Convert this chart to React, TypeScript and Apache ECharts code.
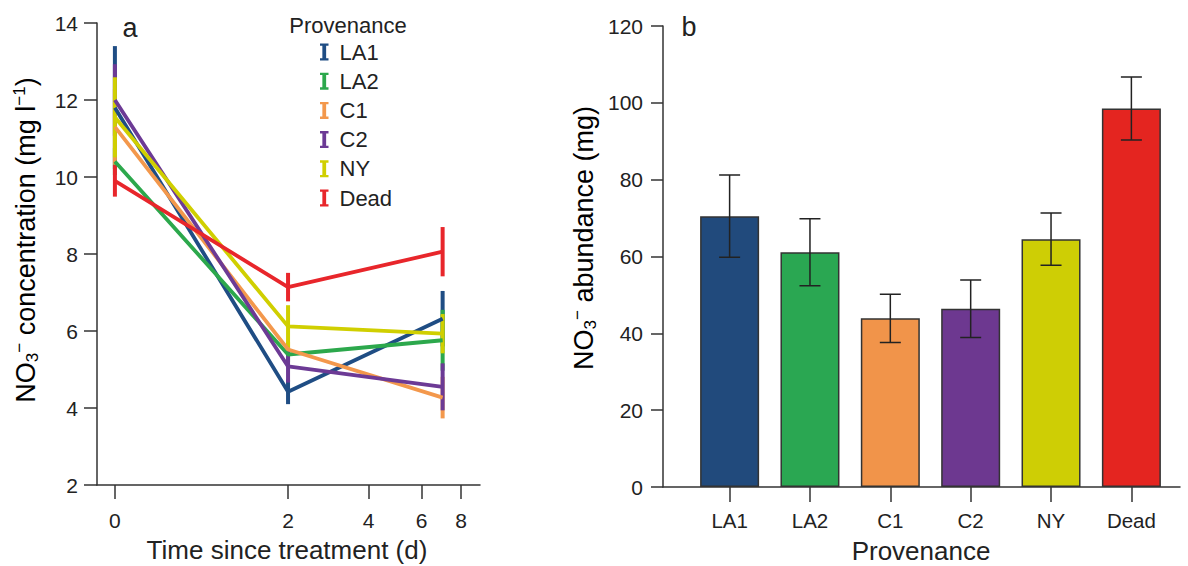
import React, { useEffect, useRef } from 'react';
import * as echarts from 'echarts';

// ---------- data ----------
const provenances = ['LA1', 'LA2', 'C1', 'C2', 'NY', 'Dead'];
const lineColors = ['#1f4d84', '#2ca84c', '#f3984c', '#6c3a95', '#d0cf00', '#e8262b'];
const barColors = ['#214a7c', '#2aa752', '#f1944a', '#6d3890', '#cece05', '#e42520'];

// panel a: time (days) and NO3- concentration (mg/l)
const timeDays = [0, 2, 7];
const timeTicks = [0, 2, 4, 6, 8];

const concLA1 = [11.8, 4.42, 6.32];
const concLA2 = [10.4, 5.39, 5.76];
const concC1 = [11.3, 5.52, 4.27];
const concC2 = [12.0, 5.08, 4.55];
const concNY = [11.55, 6.12, 5.93];
const concDead = [9.9, 7.14, 8.06];

const errLA1 = [1.6, 0.32, 0.72];
const errLA2 = [0.35, 0.2, 0.79];
const errC1 = [0.98, 0.2, 0.54];
const errC2 = [0.93, 0.42, 0.61];
const errNY = [1.04, 0.55, 0.51];
const errDead = [0.41, 0.37, 0.64];

const concSeries = [concLA1, concLA2, concC1, concC2, concNY, concDead];
const concErrors = [errLA1, errLA2, errC1, errC2, errNY, errDead];

// panel b: NO3- abundance (mg)
const abundance = [70.5, 61.1, 43.9, 46.4, 64.5, 98.5];
const abundanceErr = [10.7, 8.7, 6.3, 7.5, 6.8, 8.2];

// ---------- helpers ----------
const FONT = "'Liberation Sans', Arial, Helvetica, sans-serif";
const INK = '#222';
const AXIS = '#333';
const logT = (t: number) => Math.log(t + 1);
const ibeam = 'path://M0,0H9V2.5H6.5V15.5H9V18H0V15.5H2.5V2.5H0Z';

const nameRich = {
  n: { fontSize: 27, lineHeight: 30, fontFamily: FONT, color: INK },
  sub: { fontSize: 17, lineHeight: 17, fontFamily: FONT, color: INK, verticalAlign: 'bottom' },
  sup: { fontSize: 17, lineHeight: 17, fontFamily: FONT, color: INK, verticalAlign: 'top' },
};

export default function App() {
  const ref = useRef<HTMLDivElement>(null);

  useEffect(() => {
    if (!ref.current) return;
    const chart = echarts.init(ref.current, null, { renderer: 'svg' });

    const series: any[] = [];
    provenances.forEach((name, k) => {
      const vals = concSeries[k];
      const errs = concErrors[k];
      series.push({
        type: 'custom',
        name: name + ' error',
        xAxisIndex: 0,
        yAxisIndex: 0,
        silent: true,
        data: vals.map((v, i) => [logT(timeDays[i]), v - errs[i], v + errs[i]]),
        encode: { x: 0, y: [1, 2] },
        renderItem: (params: any, api: any) => {
          const p1 = api.coord([api.value(0), api.value(1)]);
          const p2 = api.coord([api.value(0), api.value(2)]);
          return {
            type: 'line',
            shape: { x1: p1[0], y1: p1[1], x2: p2[0], y2: p2[1] },
            style: { stroke: lineColors[k], lineWidth: 4 },
          };
        },
      });
      series.push({
        type: 'line',
        name,
        xAxisIndex: 0,
        yAxisIndex: 0,
        symbol: 'none',
        color: lineColors[k],
        lineStyle: { color: lineColors[k], width: 3.8 },
        data: vals.map((v, i) => [logT(timeDays[i]), v]),
      });
    });

    series.push({
      type: 'bar',
      name: 'abundance',
      xAxisIndex: 1,
      yAxisIndex: 1,
      barWidth: 59,
      z: 2,
      data: abundance.map((v, i) => ({
        value: [i, v],
        itemStyle: { color: barColors[i], borderColor: AXIS, borderWidth: 1.5 },
      })),
    });

    series.push({
      type: 'custom',
      name: 'abundance error',
      xAxisIndex: 1,
      yAxisIndex: 1,
      silent: true,
      z: 10,
      data: abundance.map((v, i) => [i, v - abundanceErr[i], v + abundanceErr[i]]),
      encode: { x: 0, y: [1, 2] },
      renderItem: (params: any, api: any) => {
        const x = api.coord([api.value(0), 0])[0];
        const yLo = api.coord([api.value(0), api.value(1)])[1];
        const yHi = api.coord([api.value(0), api.value(2)])[1];
        const w = 10.5;
        return {
          type: 'polyline',
          shape: {
            points: [
              [x - w, yHi], [x + w, yHi], [x, yHi], [x, yLo], [x - w, yLo], [x + w, yLo],
            ],
          },
          style: { stroke: INK, lineWidth: 1.5, fill: 'none' },
        };
      },
    });

    const axisLine = { show: true, onZero: false, lineStyle: { color: AXIS, width: 1.5 } };

    chart.setOption({
      animation: false,
      textStyle: { fontFamily: FONT, color: INK },
      grid: [
        { left: 97, top: 23, width: 383, height: 462, containLabel: false, outerBoundsMode: 'none' },
        { left: 663, top: 26, width: 517, height: 461, containLabel: false, outerBoundsMode: 'none' },
      ],
      xAxis: [
        {
          type: 'value',
          gridIndex: 0,
          min: -0.1136,
          max: 2.3166,
          axisLine,
          splitLine: { show: false },
          axisTick: {
            show: true,
            length: 14,
            lineStyle: { color: AXIS, width: 1.5 },
            customValues: timeTicks.map(logT),
          },
          axisLabel: {
            customValues: timeTicks.map(logT),
            formatter: (v: number) => String(Math.round(Math.exp(v) - 1)),
            fontSize: 21,
            color: INK,
            fontFamily: FONT,
            margin: 25,
          },
        },
        {
          type: 'value',
          gridIndex: 1,
          min: -0.829,
          max: 5.605,
          axisLine,
          splitLine: { show: false },
          axisTick: {
            show: true,
            length: 15,
            lineStyle: { color: AXIS, width: 1.5 },
            customValues: provenances.map((_, i) => i),
          },
          axisLabel: {
            customValues: provenances.map((_, i) => i),
            formatter: (v: number) => provenances[Math.round(v)] ?? '',
            fontSize: 20.5,
            color: INK,
            fontFamily: FONT,
            margin: 23,
          },
        },
      ],
      yAxis: [
        {
          type: 'value',
          gridIndex: 0,
          min: 2,
          max: 14,
          interval: 2,
          axisLine,
          splitLine: { show: false },
          axisTick: { show: true, length: 13, lineStyle: { color: AXIS, width: 1.5 } },
          axisLabel: { fontSize: 21, color: INK, fontFamily: FONT, margin: 19 },
        },
        {
          type: 'value',
          gridIndex: 1,
          min: 0,
          max: 120,
          interval: 20,
          axisLine,
          splitLine: { show: false },
          axisTick: { show: true, length: 12, lineStyle: { color: AXIS, width: 1.5 } },
          axisLabel: { fontSize: 21, color: INK, fontFamily: FONT, margin: 20 },
        },
      ],
      legend: {
        data: provenances,
        orient: 'vertical',
        left: 320,
        top: 41,
        padding: 0,
        icon: ibeam,
        itemWidth: 8.5,
        itemHeight: 18,
        itemGap: 7.2,
        selectedMode: false,
        textStyle: {
          fontSize: 22,
          lineHeight: 18,
          color: INK,
          fontFamily: FONT,
          padding: [0, 0, 0, 6],
        },
      },
      graphic: [
        { type: 'text', x: 130, y: 28, style: { text: 'a', fontSize: 27, fontFamily: FONT, fill: INK, align: 'center', verticalAlign: 'middle' } },
        { type: 'text', x: 689, y: 27, style: { text: 'b', fontSize: 27, fontFamily: FONT, fill: INK, align: 'center', verticalAlign: 'middle' } },
        { type: 'text', x: 348, y: 25, style: { text: 'Provenance', fontSize: 22, fontFamily: FONT, fill: INK, align: 'center', verticalAlign: 'middle' } },
        { type: 'text', x: 287, y: 550, style: { text: 'Time since treatment (d)', fontSize: 26, fontFamily: FONT, fill: INK, align: 'center', verticalAlign: 'middle' } },
        { type: 'text', x: 921, y: 551, style: { text: 'Provenance', fontSize: 26, fontFamily: FONT, fill: INK, align: 'center', verticalAlign: 'middle' } },
        {
          type: 'text',
          x: 26,
          y: 240,
          rotation: Math.PI / 2,
          style: {
            text: '{n|NO}{sub|3}{sup|−}{n| concentration (mg l}{sup|−1}{n|)}',
            rich: nameRich,
            align: 'center',
            verticalAlign: 'middle',
          },
        },
        {
          type: 'text',
          x: 584,
          y: 238,
          rotation: Math.PI / 2,
          style: {
            text: '{n|NO}{sub|3}{sup|−}{n| abundance (mg)}',
            rich: nameRich,
            align: 'center',
            verticalAlign: 'middle',
          },
        },
      ],
      series,
    });

    return () => chart.dispose();
  }, []);

  return (
    <div
      ref={ref}
      style={{ position: 'fixed', left: 0, top: 0, width: 1188, height: 566, background: '#fff' }}
    />
  );
}
